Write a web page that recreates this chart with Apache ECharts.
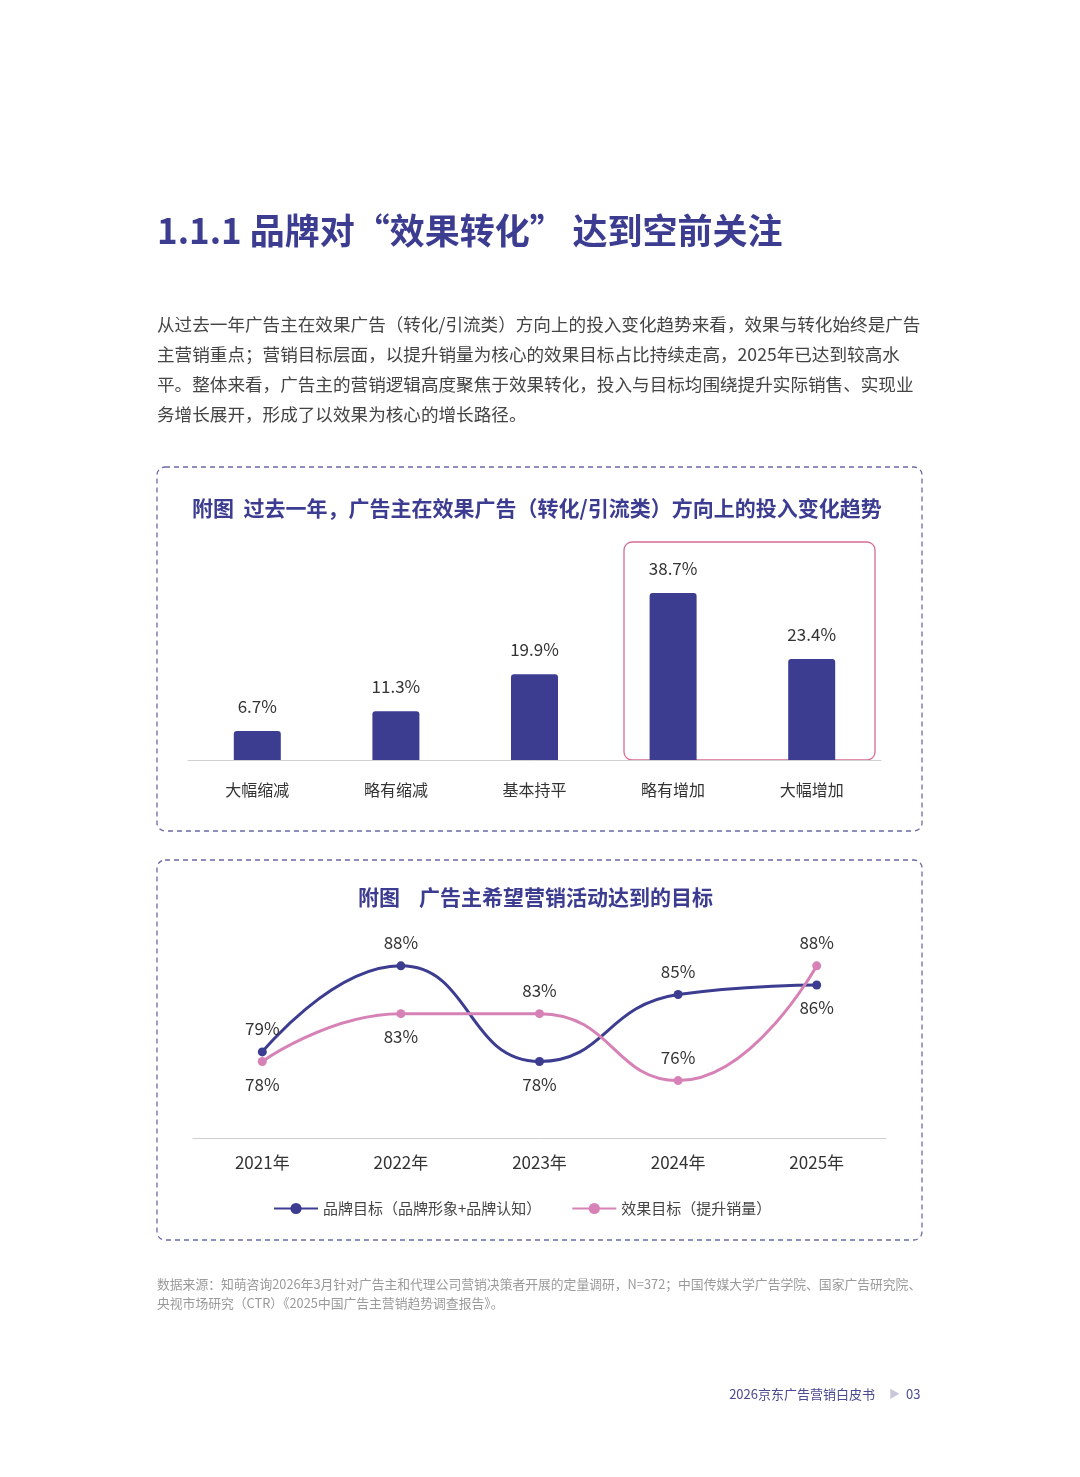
<!DOCTYPE html>
<html>
<head>
<meta charset="utf-8">
<script src="https://cdn.jsdelivr.net/npm/echarts@6/dist/echarts.min.js"></script>
<style>html,body{margin:0;padding:0;background:#fff}#main{width:1080px;height:1477px}</style>
</head>
<body>
<div id="main"></div>
<script>
const barCategories = ["大幅缩减", "略有缩减", "基本持平", "略有增加", "大幅增加"];
const barValues = [6.7, 11.3, 19.9, 38.7, 23.4];
const years = ["2021年", "2022年", "2023年", "2024年", "2025年"];
const brandGoal = [79, 88, 78, 85, 86];
const salesGoal = [78, 83, 83, 76, 88];

const FONT = "'Noto Sans CJK SC', 'Noto Sans', sans-serif";
const NAVY = "#3c3c91";
const PINK = "#d682b6";
const brandPos = ["top", "top", "bottom", "top", "bottom"];
const salesPos = ["bottom", "bottom", "top", "top", "top"];

const bodyLines = [
  "从过去一年广告主在效果广告（转化/引流类）方向上的投入变化趋势来看，效果与转化始终是广告",
  "主营销重点；营销目标层面，以提升销量为核心的效果目标占比持续走高，2025年已达到较高水",
  "平。整体来看，广告主的营销逻辑高度聚焦于效果转化，投入与目标均围绕提升实际销售、实现业",
  "务增长展开，形成了以效果为核心的增长路径。"
];

const chart = echarts.init(document.getElementById("main"));

const graphics = [
  { type: "text", left: 157, top: 213, style: { text: "1.1.1 品牌对“效果转化” 达到空前关注", font: "bold 35px " + FONT, fill: NAVY } },
  { type: "rect", shape: { x: 157, y: 467, width: 765, height: 364, r: 8 }, style: { fill: "none", stroke: "#6a6aa8", lineWidth: 1.3, lineDash: [5, 4] } },
  { type: "rect", shape: { x: 157, y: 860, width: 765, height: 380, r: 8 }, style: { fill: "none", stroke: "#6a6aa8", lineWidth: 1.3, lineDash: [5, 4] } },
  { type: "rect", shape: { x: 624, y: 542, width: 251, height: 218, r: 8 }, style: { fill: "none", stroke: "#d86b92", lineWidth: 1.3 } },
  { type: "text", left: 192, top: 498, style: { text: "附图  过去一年，广告主在效果广告（转化/引流类）方向上的投入变化趋势", font: "bold 21px " + FONT, fill: NAVY } },
  { type: "text", left: 358, top: 887, style: { text: "附图    广告主希望营销活动达到的目标", font: "bold 21px " + FONT, fill: NAVY } },
  { type: "text", left: 157, top: 1275, style: { text: "数据来源：知萌咨询2026年3月针对广告主和代理公司营销决策者开展的定量调研，N=372；中国传媒大学广告学院、国家广告研究院、\n央视市场研究（CTR）《2025中国广告主营销趋势调查报告》。", font: "12.8px " + FONT, fill: "#9a9a9a", lineHeight: 19 } },
  { type: "text", right: 156, top: 1388, style: { text: "2026京东广告营销白皮书", font: "13px " + FONT, fill: "#4a4a90" } },
  { type: "text", left: 889, top: 1388, style: { text: "▶", font: "11px " + FONT, fill: "#c8c8d8" } },
  { type: "text", left: 906, top: 1388, style: { text: "03", font: "13px " + FONT, fill: "#4a4a90" } }
];
graphics[7].right = 205;
bodyLines.forEach((t, i) => {
  graphics.push({ type: "text", left: 157, top: 316 + i * 30, style: { text: t, font: "17.6px " + FONT, fill: "#444" } });
});

chart.setOption({
  animation: false,
  textStyle: { fontFamily: FONT },
  graphic: graphics,
  legend: {
    data: ["品牌目标（品牌形象+品牌认知）", "效果目标（提升销量）"],
    top: 1196, left: 268,
    itemWidth: 44, itemHeight: 14, itemGap: 30,
    textStyle: { fontSize: 15, color: "#444" }
  },
  grid: [
    { left: 188, right: 199, top: 540, height: 220 },
    { left: 193, right: 194, top: 927.6, height: 210.4 }
  ],
  xAxis: [
    { gridIndex: 0, type: "category", data: barCategories, axisTick: { show: false },
      axisLine: { lineStyle: { color: "#d0d0d0" } }, axisLabel: { color: "#333", fontSize: 16, margin: 22 } },
    { gridIndex: 1, type: "category", data: years, axisTick: { show: false },
      axisLine: { lineStyle: { color: "#cfcfcf" } }, axisLabel: { color: "#333", fontSize: 17, margin: 16 } }
  ],
  yAxis: [
    { gridIndex: 0, type: "value", min: 0, max: 51, show: false },
    { gridIndex: 1, type: "value", min: 70, max: 92, show: false }
  ],
  series: [
    { type: "bar", xAxisIndex: 0, yAxisIndex: 0, data: barValues, barWidth: 47,
      itemStyle: { color: NAVY, borderRadius: [3, 3, 0, 0] },
      label: { show: true, position: "top", distance: 16, formatter: "{c}%", color: "#333", fontSize: 17 } },
    { name: "品牌目标（品牌形象+品牌认知）", type: "line", xAxisIndex: 1, yAxisIndex: 1, smooth: 0.5,
      data: brandGoal.map((v, i) => ({ value: v, label: { position: brandPos[i] } })),
      symbol: "circle", symbolSize: 9, lineStyle: { width: 3, color: NAVY }, itemStyle: { color: NAVY },
      label: { show: true, formatter: "{c}%", color: "#333", fontSize: 17, distance: 10 } },
    { name: "效果目标（提升销量）", type: "line", xAxisIndex: 1, yAxisIndex: 1, smooth: 0.5,
      data: salesGoal.map((v, i) => ({ value: v, label: { position: salesPos[i] } })),
      symbol: "circle", symbolSize: 9, lineStyle: { width: 3, color: PINK }, itemStyle: { color: PINK },
      label: { show: true, formatter: "{c}%", color: "#333", fontSize: 17, distance: 10 } }
  ]
});
</script>
</body>
</html>
